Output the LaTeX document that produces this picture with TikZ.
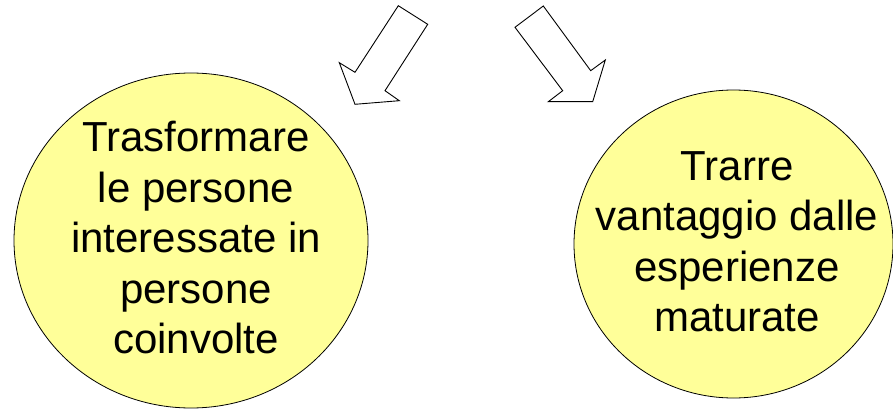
\documentclass[tikz,border=0pt]{standalone}
\usepackage{fontspec}
\setmainfont{Liberation Sans}
\usetikzlibrary{shapes.geometric}
\definecolor{blobfill}{HTML}{FFFF99}
\tikzset{
  blob/.style={ellipse, draw=black, line width=0.8pt, fill=blobfill, inner sep=0pt},
  blobtext/.style={align=center, inner sep=0pt, font=\fontsize{42}{50.5}\selectfont},
  blockarrow/.style={draw=black, line width=0.9pt, fill=white, line join=miter}
}
\begin{document}
\begin{tikzpicture}[x=1pt,y=-1pt]
\useasboundingbox (0,0) rectangle (893,409);
% circles
\node[blob, minimum width=354pt, minimum height=335pt] (left) at (191,240.5) {};
\node[blob, minimum width=319pt, minimum height=308pt] (right) at (733.5,244) {};
\node[blobtext] (lefttext) at (196,238) {Trasformare\\le persone\\interessate in\\persone\\coinvolte};
\node[blobtext] (righttext) at (737,242) {Trarre\\vantaggio dalle\\esperienze\\maturate};
% block arrows
\draw[blockarrow] (398.3,5.7) -- (427.7,24.3) -- (385,90.7) -- (399.3,100.7) -- (355,104.3) -- (339.3,62.7) -- (355,72.3) -- cycle;
\draw[blockarrow] (543.3,6) -- (515,27.3) -- (562.7,90.7) -- (548.3,101.7) -- (592.7,101.7) -- (605.3,60) -- (590.7,70.7) -- cycle;
\end{tikzpicture}
\end{document}
